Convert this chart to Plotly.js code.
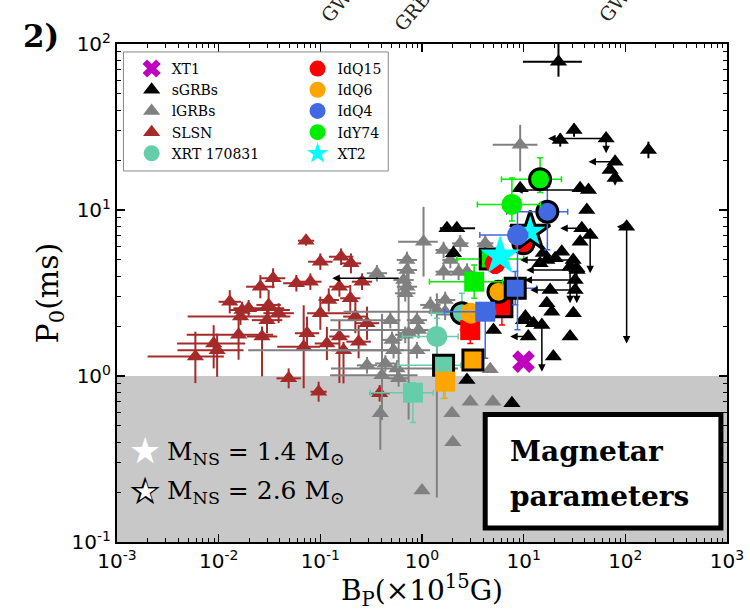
<!DOCTYPE html>
<html><head><meta charset="utf-8">
<script src="https://cdn.plot.ly/plotly-3.0.1.min.js"></script>
<style>html,body{margin:0;padding:0;background:#fff}#chart{width:750px;height:611px}</style>
</head><body><div id="chart"></div>
<script>
// ---------- SLSN (B in 1e15 G, P in ms; errors in dex) ----------
const slsnB = [0.0723,0.100,0.160,0.200,0.0343,0.0257,0.0581,0.0798,0.154,0.257,0.01285,0.0170,0.0197,0.0310,0.0389,0.0164,0.0299,0.100,0.121,0.197,0.0157,0.0267,0.0740,0.00893,0.00966,0.0059,0.0686,0.116,0.154,0.221,0.288,0.238,0.169,0.0488,0.0962,0.383];
const slsnP = [6.53,4.88,5.23,4.77,3.88,3.45,3.62,3.70,3.45,3.70,2.80,2.50,2.56,2.68,2.39,2.28,2.17,2.39,2.87,2.94,1.77,1.73,1.81,1.57,1.43,1.31,1.50,1.57,1.73,2.28,2.08,1.61,1.43,0.968,0.804,0.787];
const slsnBLo = [0.08,0.12,0.12,0.10,0.12,0.14,0.13,0.11,0.10,0.10,0.11,0.12,0.15,0.12,0.15,0.52,0.15,0.13,0.10,0.10,0.51,0.15,0.12,0.36,0.39,0.47,0.26,0.12,0.10,0.12,0.12,0.12,0.12,0.12,0.08,0.10];
const slsnBHi = [0.08,0.12,0.12,0.10,0.12,0.14,0.13,0.11,0.10,0.10,0.11,0.47,0.35,0.12,0.15,0.49,0.15,0.30,0.10,0.10,0.34,0.15,0.12,0.31,0.26,0.28,0.16,0.12,0.10,0.12,0.12,0.12,0.12,0.12,0.08,0.10];
const slsnPLo = [0.03,0.05,0.05,0.06,0.06,0.07,0.05,0.05,0.06,0.05,0.07,0.05,0.05,0.09,0.06,0.05,0.08,0.10,0.07,0.08,0.15,0.24,0.10,0.15,0.16,0.16,0.25,0.10,0.28,0.10,0.10,0.10,0.20,0.06,0.06,0.05];
const slsnPHi = [0.03,0.05,0.05,0.06,0.06,0.07,0.05,0.05,0.06,0.05,0.07,0.05,0.05,0.09,0.06,0.05,0.08,0.10,0.07,0.08,0.09,0.06,0.10,0.11,0.10,0.15,0.25,0.10,0.10,0.10,0.10,0.10,0.05,0.06,0.06,0.05];

// ---------- long GRBs ----------
const lgrbB = [1.035,9.24,0.360,0.711,0.711,0.659,0.711,0.684,1.63,1.90,1.63,2.29,2.77,2.38,4.19,1.21,1.69,1.69,0.891,0.925,0.488,0.507,0.525,0.436,0.684,0.738,0.288,0.404,0.568,0.589,0.891,0.389,1.97,2.98,4.98,2.01,1.00,4.69,1.40];
const lgrbP = [6.44,24.7,4.16,5.0,4.35,3.79,3.45,3.15,5.74,5.0,4.25,4.25,4.25,6.30,6.30,2.68,2.87,2.44,2.17,1.89,2.17,1.65,1.43,1.19,1.77,1.81,1.16,1.01,1.11,0.968,1.43,0.596,0.596,0.700,0.700,0.399,0.204,1.10,2.50];
const lgrbBLo = [0.25,0.27,0.10,0.10,0.10,0.10,0.10,0.10,0.08,0.08,0.08,0.08,0.08,0.08,0.08,0.10,0.10,1.00,0.10,0.87,0.59,0.10,1.43,0.10,0.10,0.10,0.10,0.51,0.65,0.10,0.78,0,0,0,0,0,0,0,0];
const lgrbBHi = [0.14,0.17,0.10,0.10,0.10,0.10,0.10,0.10,0.08,0.08,0.08,0.08,0.08,0.08,0.08,0.10,0.10,0.05,0.10,0.10,0.10,0.10,0.10,0.10,0.10,0.10,0.10,0.35,0.60,0.10,0.13,0,0,0,0,0,0,0,0];
const lgrbPLo = [0.21,0.16,0.05,0.05,0.05,0.05,0.05,0.05,0.05,0.05,0.05,0.05,0.05,0.05,0.05,0.05,0.05,0.05,0.05,0.05,0.05,0.05,0.05,0.05,0.05,0.52,0.05,0.27,0.05,0.05,0.05,0.22,0,0,0,0,0,0,1.13];
const lgrbPHi = [0.21,0.12,0.05,0.05,0.05,0.05,0.05,0.05,0.05,0.05,0.05,0.05,0.05,0.05,0.05,0.05,0.05,0.05,0.05,0.05,0.05,0.05,0.05,0.05,0.05,0.42,0.05,0.37,0.05,0.60,0.05,0.05,0,0,0,0,0,0,0.10];

// ---------- short GRBs ----------
const sgrbB = [22.0,31.3,22.9,64.7,168.7,79.3,70.8,79.3,9.24,35.9,43.4,41.8,37.3,45.1,35.9,23.7,20.4,16.9,14.5,103,28.6,33.3,30.8,28.6,19.6,9.96,12.5,15.1,11.1,5.05,2.77,7.66,1.76,2.20,2.04,30.7,33.6,32.1,32.1,18.2,16.9,18.9,15.6,10.4];
const sgrbP = [78.2,30.3,26.4,27.0,23.0,19.5,17.4,15.6,13.5,13.5,13.2,10.0,7.76,7.07,6.44,5.61,5.12,5.0,4.77,7.93,4.55,4.45,2.39,1.73,1.31,2.17,2.08,2.03,1.73,1.89,0.946,0.685,7.76,7.76,5.48,5.0,4.35,3.79,3.30,3.30,2.74,2.44,5.51,2.28];
const sgrbBLo = [0.35,0.03,0,0,0.03,0,0,0,0,0,0,0,0,0,0,0,0,0,0,0,0,0,0,0,0,0,0,0,0,0,0,0,0.07,0.03,0,0,0,0,0,0,0,0,0,0];
const sgrbBHi = [0.23,0.03,0,0,0.03,0,0,0,0,0,0,0,0,0,0,0,0,0,0,0,0,0,0,0,0,0,0,0,0,0,0,0,0.03,0.18,0,0,0,0,0,0,0,0,0,0];
const sgrbPLo = [0.09,0.04,0.04,0,0.05,0,0,0,0,0,0,0,0,0,0,0,0,0,0,0,0,0,0,0,0,0,0,0,0,0,0,0,0,0,0,0,0,0,0,0,0,0,0,0];
const sgrbPHi = [0.30,0.04,0.04,0,0.05,0,0,0,0,0,0,0,0,0,0,0,0,0,0,0,0,0,0,0,0,0,0,0,0,0,0,0,0,0,0,0,0,0,0,0,0,0,0,0];
// upper-limit arrows (from point -> to limit)
const limFromB = [64.7,64.7,79.3,79.3,43.4,103,103,28.6,33.3,45.1,15.1,37.3,30.7,33.6,32.1,32.1,11.1,0.611];
const limFromP = [27.0,27.0,19.5,15.6,13.2,7.93,7.93,4.55,4.45,7.07,2.03,7.76,5.0,4.35,3.79,3.30,1.73,3.88];
const limToB   = [17.4,64.7,43.4,79.3,8.25,103,82.4,28.6,33.3,45.1,15.1,22.9,9.24,10.6,10.2,11.6,7.37,0.131];
const limToP   = [27.0,22.0,19.5,14.0,13.2,1.57,7.93,2.74,2.74,4.16,1.06,7.76,5.0,4.35,3.79,3.30,1.73,3.88];

// ---------- X-ray transients (order: circle 1.4, circle 2.6, square 1.4, square 2.6) ----------
const xrtB = [1.40,2.47,0.815,1.63];
const xrtP = [1.73,2.39,0.793,1.16];
const xrtBLo = [0.34,0.30,0.42,0.45], xrtBHi = [0.21,0.05,0.20,0.17];
const xrtPLo = [0.12,0.10,0.18,0.20], xrtPHi = [0.11,0.12,0.06,0.05];

const idq15B = [5.25,9.96,2.98,6.11];
const idq15P = [4.77,6.30,1.89,2.61];
const idq15BLo = [0.06,0.06,0.05,0.05], idq15BHi = [0.06,0.06,0.05,0.05];
const idq15PLo = [0.06,0.06,0.08,0.11], idq15PHi = [0.06,0.06,0.05,0.05];

const idq6B = [3.03,5.65,1.69,3.17];
const idq6P = [2.39,3.22,0.925,1.25];
const idq6BLo = [0.05,0.05,0.05,0.05], idq6BHi = [0.05,0.05,0.05,0.05];
const idq6PLo = [0.05,0.05,0.10,0.05], idq6PHi = [0.05,0.05,0.05,0.05];

const idq4B = [8.69,17.1,4.19,8.26];
const idq4P = [7.06,9.77,2.44,3.38];
const idq4BLo = [0.37,0.40,0.40,0.10], idq4BHi = [0.10,0.20,0.10,0.21];
const idq4PLo = [0.57,0.23,0.28,0.10], idq4PHi = [0.15,0.15,0.05,0.10];

const idy74B = [7.66,14.5,3.26,4.69];
const idy74P = [10.8,15.3,3.70,5.07];
const idy74BLo = [0.34,0.38,0.44,0.33], idy74BHi = [0.28,0.21,0.28,0.33];
const idy74PLo = [0.10,0.08,0.10,0.05], idy74PHi = [0.16,0.13,0.10,0.05];

const xt2B = [5.87,11.6];   // M=1.4, M=2.6
const xt2P = [5.28,7.40];

const xt1B = [9.96];
const xt1P = [1.22];

// ---------- tick labels ----------
const xTickExp = [-3,-2,-1,0,1,2,3];
const yTickExp = [-1,0,1,2];

// ---------- build ----------
const SERIF = '"DejaVu Serif", serif';
function errX(v, lo, hi, color, th, w) {
  return {type:'data', symmetric:false, color:color, thickness:th, width:w,
    array: v.map((b,i)=>b*(Math.pow(10,hi[i])-1)),
    arrayminus: v.map((b,i)=>b*(1-Math.pow(10,-lo[i])))};
}
const traces = [];
traces.push({type:'scatter', mode:'markers', name:'SLSN', x:slsnB, y:slsnP,
  marker:{symbol:'triangle-up', size:15, color:'#a52a2a'},
  error_x: errX(slsnB, slsnBLo, slsnBHi, '#a52a2a', 2, 0),
  error_y: errX(slsnP, slsnPLo, slsnPHi, '#a52a2a', 2, 0),
  legend:'legend', legendrank:4});
traces.push({type:'scatter', mode:'markers', name:'lGRBs', x:lgrbB, y:lgrbP,
  marker:{symbol:'triangle-up', size:15, color:'#808080'},
  error_x: errX(lgrbB, lgrbBLo, lgrbBHi, '#808080', 2, 0),
  error_y: errX(lgrbP, lgrbPLo, lgrbPHi, '#808080', 2, 0),
  legend:'legend', legendrank:3});
traces.push({type:'scatter', mode:'markers', name:'sGRBs', x:sgrbB, y:sgrbP,
  marker:{symbol:'triangle-up', size:15, color:'#000000'},
  error_x: errX(sgrbB, sgrbBLo, sgrbBHi, '#000000', 2, 0),
  error_y: errX(sgrbP, sgrbPLo, sgrbPHi, '#000000', 2, 0),
  legend:'legend', legendrank:2});

const src = {
  xrt:  {name:'XRT 170831', color:'#66cdaa', B:xrtB, P:xrtP, BLo:xrtBLo, BHi:xrtBHi, PLo:xrtPLo, PHi:xrtPHi, legend:'legend', rank:5},
  idq15:{name:'IdQ15', color:'#ff0000', B:idq15B, P:idq15P, BLo:idq15BLo, BHi:idq15BHi, PLo:idq15PLo, PHi:idq15PHi, legend:'legend2', rank:1},
  idq6: {name:'IdQ6', color:'#ffa500', B:idq6B, P:idq6P, BLo:idq6BLo, BHi:idq6BHi, PLo:idq6PLo, PHi:idq6PHi, legend:'legend2', rank:2},
  idq4: {name:'IdQ4', color:'#4169e1', B:idq4B, P:idq4P, BLo:idq4BLo, BHi:idq4BHi, PLo:idq4PLo, PHi:idq4PHi, legend:'legend2', rank:3},
  idy74:{name:'IdY74', color:'#00ee00', B:idy74B, P:idy74P, BLo:idy74BLo, BHi:idy74BHi, PLo:idy74PLo, PHi:idy74PHi, legend:'legend2', rank:4}
};
const drawOrder = [['idy74',3],['idq15',1],['xrt',0],['xrt',1],['xrt',2],['xrt',3],['idq15',2],['idq15',3],
  ['idq6',0],['idq6',1],['idq4',2],['idq4',3],['idq6',2],['idq6',3],['idq15',0],['xt2',1],
  ['idq4',0],['idq4',1],['idy74',0],['idy74',1],['idy74',2],['xt2',0]];
drawOrder.forEach(([k,v])=>{
  const outlined = (v%2===1);
  if (k==='xt2') {
    traces.push({type:'scatter', mode:'markers', name:'XT2', x:[xt2B[v]], y:[xt2P[v]],
      marker:{symbol:'star', size:30, color:'#00ffff', line:{width: outlined?3:0, color:'#000'}},
      showlegend: !outlined, legend:'legend2', legendrank:5});
    return;
  }
  const s = src[k];
  const sym = v<2 ? 'circle' : 'square';
  traces.push({type:'scatter', mode:'markers', name:s.name, x:[s.B[v]], y:[s.P[v]],
    marker:{symbol:sym, size: sym==='circle'?21:20, color:s.color, line:{width: outlined?3:0, color:'#000'}},
    error_x: errX([s.B[v]], [s.BLo[v]], [s.BHi[v]], s.color, 1.5, 3),
    error_y: errX([s.P[v]], [s.PLo[v]], [s.PHi[v]], s.color, 1.5, 3),
    showlegend: (v===0), legend:s.legend, legendrank:s.rank});
});
traces.push({type:'scatter', mode:'markers', name:'XT1', x:xt1B, y:xt1P,
  marker:{symbol:'x', size:20, color:'#bf00bf'}, legend:'legend', legendrank:1});

const annotations = limFromB.map((b,i)=>({
  xref:'x', yref:'y', axref:'x', ayref:'y',
  x:Math.log10(limToB[i]), y:Math.log10(limToP[i]), ax:Math.log10(b), ay:Math.log10(limFromP[i]),
  text:'', showarrow:true, arrowhead:2, arrowsize:1, arrowwidth:1.5, arrowcolor:'#000', standoff:0, startstandoff:0
}));
const tfont = (sz, extra) => Object.assign({family:SERIF, size:sz, color:'#000'}, extra||{});
const topFont = {family:'"DejaVu Serif", serif', size:19, color:'#222'};
annotations.push(
  {xref:'paper', yref:'paper', x:0.641, y:0.181, xanchor:'left', yanchor:'middle', showarrow:false,
   text:'<b>Magnetar</b>', font:tfont(28)},
  {xref:'paper', yref:'paper', x:0.641, y:0.092, xanchor:'left', yanchor:'middle', showarrow:false,
   text:'<b>parameters</b>', font:tfont(28)},
  {xref:'paper', yref:'paper', x:0.0467, y:0.183, xanchor:'center', yanchor:'middle', showarrow:false,
   text:'★', font:{family:'DejaVu Sans', size:36, color:'#ffffff'}},
  {xref:'paper', yref:'paper', x:0.0467, y:0.102, xanchor:'center', yanchor:'middle', showarrow:false,
   text:'★', font:{family:'DejaVu Sans', size:38, color:'#000000'}},
  {xref:'paper', yref:'paper', x:0.0467, y:0.102, xanchor:'center', yanchor:'middle', showarrow:false,
   text:'★', font:{family:'DejaVu Sans', size:26, color:'#ffffff'}},
  {xref:'paper', yref:'paper', x:0.079, y:0.179, xanchor:'left', yanchor:'middle', showarrow:false,
   text:'M<sub>NS</sub> = 1.4 M<sub>⊙</sub>', font:tfont(25)},
  {xref:'paper', yref:'paper', x:0.079, y:0.100, xanchor:'left', yanchor:'middle', showarrow:false,
   text:'M<sub>NS</sub> = 2.6 M<sub>⊙</sub>', font:tfont(25)},
  {xref:'paper', yref:'paper', x:-0.124, y:1.016, xanchor:'center', yanchor:'middle', showarrow:false,
   text:'<b>2)</b>', font:tfont(31)},
  {xref:'paper', yref:'paper', x:0.398, y:1.132, xanchor:'center', yanchor:'middle', showarrow:false,
   text:'GW170817', textangle:-50, font:topFont},
  {xref:'paper', yref:'paper', x:0.530, y:1.132, xanchor:'center', yanchor:'middle', showarrow:false,
   text:'GRB170817A', textangle:-50, font:topFont},
  {xref:'paper', yref:'paper', x:0.853, y:1.132, xanchor:'center', yanchor:'middle', showarrow:false,
   text:'GW190425', textangle:-50, font:topFont}
);

const axCommon = {type:'log', showgrid:false, zeroline:false, showline:true, linecolor:'#000', linewidth:2,
  mirror:'allticks', ticks:'inside', ticklen:8, tickwidth:1.5, tickcolor:'#000', tickmode:'array',
  tickfont:{family:'"DejaVu Sans", sans-serif', size:20, color:'#000'},
  minor:{ticks:'inside', ticklen:4, tickwidth:1, tickcolor:'#000', showgrid:false, dtick:'D1'}};

const layout = {
  width:750, height:611, margin:{l:117, r:23, t:44, b:69},
  paper_bgcolor:'#fff', plot_bgcolor:'#fff', showlegend:true,
  xaxis: Object.assign({}, axCommon, {range:[-3,3],
    tickvals: xTickExp.map(e=>Math.pow(10,e)), ticktext: xTickExp.map(e=>'10<sup>'+e+'</sup>'),
    title:{text:'B<sub>P</sub>(×10<sup>15</sup>G)', font:tfont(28), standoff:6}}),
  yaxis: Object.assign({}, axCommon, {range:[-1,2],
    tickvals: yTickExp.map(e=>Math.pow(10,e)), ticktext: yTickExp.map(e=>'10<sup>'+e+'</sup>'),
    title:{text:'P<sub>0</sub>(ms)', font:tfont(30), standoff:4}}),
  legend:{x:0.024, y:0.982, xanchor:'left', yanchor:'top', bgcolor:'rgba(0,0,0,0)', borderwidth:0,
    font:tfont(14), traceorder:'normal', itemsizing:'trace'},
  legend2:{x:0.296, y:0.982, xanchor:'left', yanchor:'top', bgcolor:'rgba(0,0,0,0)', borderwidth:0,
    font:tfont(14), traceorder:'normal', itemsizing:'trace'},
  shapes:[
    {type:'rect', layer:'below', xref:'paper', yref:'y', x0:0, x1:1, y0:0.1, y1:1, fillcolor:'#c8c8c8', line:{width:0}},
    {type:'rect', layer:'above', xref:'paper', yref:'paper', x0:0.0106, x1:0.4447, y0:0.745, y1:0.984,
     fillcolor:'rgba(0,0,0,0)', line:{width:1, color:'#888'}},
    {type:'rect', layer:'above', xref:'paper', yref:'paper', x0:0.6036, x1:0.99, y0:0.028, y1:0.256,
     fillcolor:'#ffffff', line:{width:5, color:'#000'}}
  ],
  annotations: annotations
};
Plotly.newPlot('chart', traces, layout, {displayModeBar:false, staticPlot:true});
</script></body></html>
